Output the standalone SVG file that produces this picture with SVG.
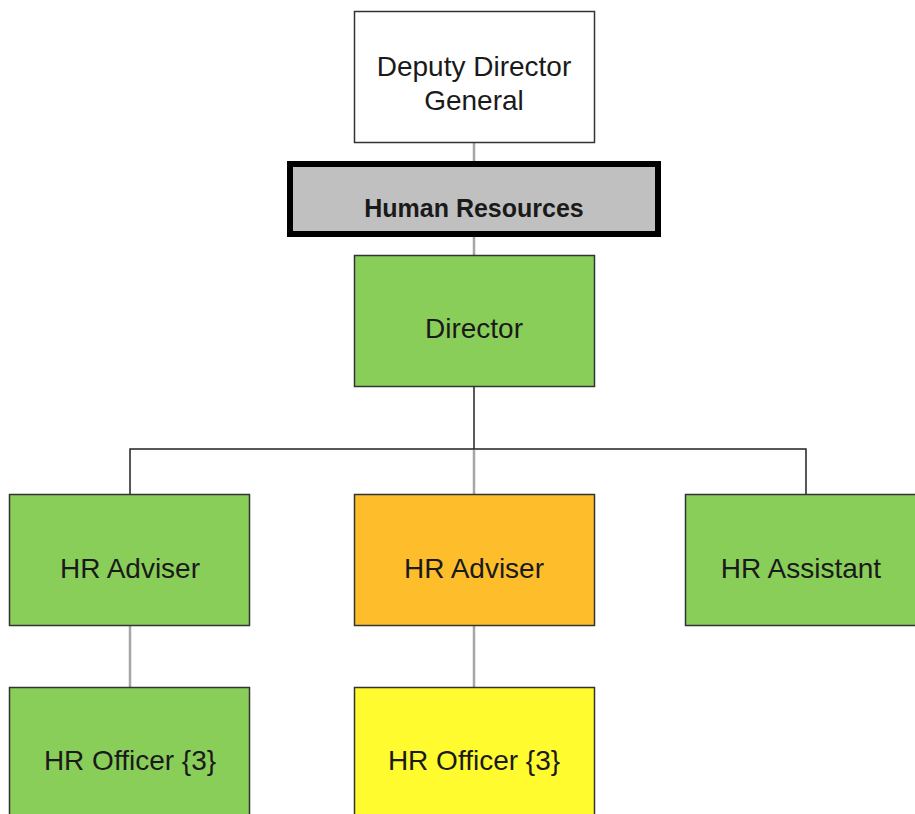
<svg xmlns="http://www.w3.org/2000/svg" width="915" height="814" viewBox="0 0 915 814">
<style>
.box{stroke:#333;stroke-width:1.5}
.t{font-family:"Liberation Sans",Arial,sans-serif;font-size:28px;fill:#1a1a1a;text-anchor:middle}
.b{font-weight:bold;font-size:25px}
.g{stroke:#a6a6a6;stroke-width:2.5;fill:none}
.k{stroke:#222;stroke-width:1.5;fill:none}
</style>
<rect width="915" height="814" fill="#fff"/>
<g id="connectors">
<line class="g" x1="474" y1="142" x2="474" y2="162"/>
<line class="g" x1="474" y1="236" x2="474" y2="256"/>
<line class="k" x1="474" y1="386" x2="474" y2="449"/>
<polyline class="k" points="130,494 130,449 806,449 806,494"/>
<line class="g" x1="474" y1="450" x2="474" y2="494"/>
<line class="g" x1="130" y1="625" x2="130" y2="687"/>
<line class="g" x1="474" y1="625" x2="474" y2="687"/>
</g>
<g id="deputy">
<rect class="box" x="354.5" y="11.5" width="240" height="131" fill="#fff"/>
<text class="t" x="474" y="76">Deputy Director</text>
<text class="t" x="474" y="110">General</text>
</g>
<g id="hr">
<rect x="290" y="164" width="368" height="70" fill="#c0c0c0" stroke="#000" stroke-width="6"/>
<text class="t b" x="474" y="217">Human Resources</text>
</g>
<g id="director">
<rect class="box" x="354.5" y="255.5" width="240" height="131" fill="#8ace5a"/>
<text class="t" x="474" y="338">Director</text>
</g>
<g id="adviser1">
<rect class="box" x="9.5" y="494.5" width="240" height="131" fill="#8ace5a"/>
<text class="t" x="130" y="578">HR Adviser</text>
</g>
<g id="adviser2">
<rect class="box" x="354.5" y="494.5" width="240" height="131" fill="#febe2b"/>
<text class="t" x="474" y="578">HR Adviser</text>
</g>
<g id="assistant">
<rect class="box" x="685.5" y="494.5" width="240" height="131" fill="#8ace5a"/>
<text class="t" x="801" y="578">HR Assistant</text>
</g>
<g id="officer1">
<rect class="box" x="9.5" y="687.5" width="240" height="140" fill="#8ace5a"/>
<text class="t" x="130" y="770">HR Officer {3}</text>
</g>
<g id="officer2">
<rect class="box" x="354.5" y="687.5" width="240" height="140" fill="#fffb2e"/>
<text class="t" x="474" y="770">HR Officer {3}</text>
</g>
</svg>
